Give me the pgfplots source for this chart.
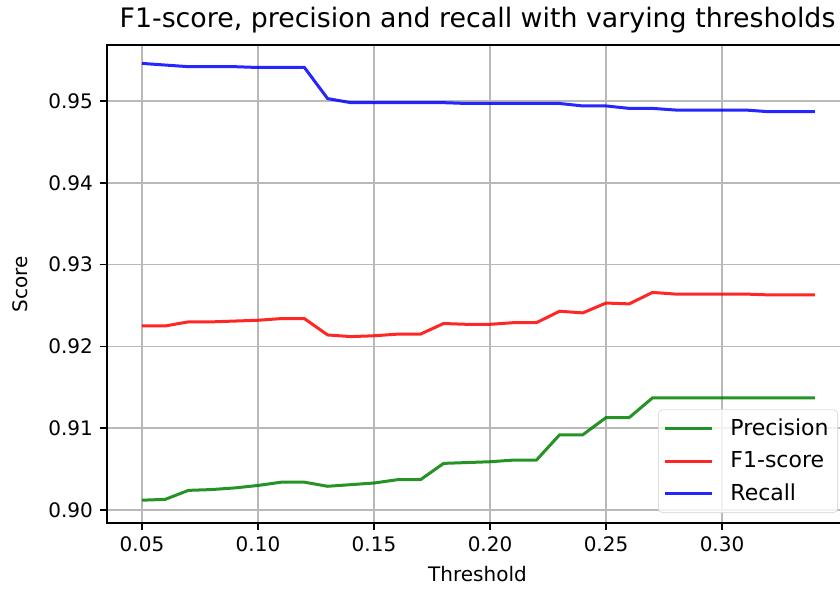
\documentclass[border=0pt]{standalone}
\usepackage{pgfplots}
\pgfplotsset{compat=1.18}
\usepackage{pgfplotstable}
\usepackage{fontspec}
\setmainfont{DejaVu Sans}
\pgfplotstableread{
t prec f1 rec
0.05 0.9012 0.9225 0.9546
0.06 0.9013 0.9225 0.9544
0.07 0.9024 0.9230 0.9542
0.08 0.9025 0.9230 0.9542
0.09 0.9027 0.9231 0.9542
0.10 0.9030 0.9232 0.9541
0.11 0.9034 0.9234 0.9541
0.12 0.9034 0.9234 0.9541
0.13 0.9029 0.9214 0.9503
0.14 0.9031 0.9212 0.9498
0.15 0.9033 0.9213 0.9498
0.16 0.9037 0.9215 0.9498
0.17 0.9037 0.9215 0.9498
0.18 0.9057 0.9228 0.9498
0.19 0.9058 0.9227 0.9497
0.20 0.9059 0.9227 0.9497
0.21 0.9061 0.9229 0.9497
0.22 0.9061 0.9229 0.9497
0.23 0.9092 0.9243 0.9497
0.24 0.9092 0.9241 0.9494
0.25 0.9113 0.9253 0.9494
0.26 0.9113 0.9252 0.9491
0.27 0.9137 0.9266 0.9491
0.28 0.9137 0.9264 0.9489
0.29 0.9137 0.9264 0.9489
0.30 0.9137 0.9264 0.9489
0.31 0.9137 0.9264 0.9489
0.32 0.9137 0.9263 0.9487
0.33 0.9137 0.9263 0.9487
0.34 0.9137 0.9263 0.9487
}\data
\definecolor{mplgreen}{rgb}{0,0.5,0}
\begin{document}
\begin{tikzpicture}
\begin{axis}[
  scale only axis, width=370.5pt, height=239pt,
  xmin=0.03491, xmax=0.3543, ymin=0.89841, ymax=0.95685,
  xtick={0.05,0.10,0.15,0.20,0.25,0.30},
  ytick={0.90,0.91,0.92,0.93,0.94,0.95},
  scaled ticks=false,
  xticklabel style={/pgf/number format/.cd, fixed, fixed zerofill, precision=2},
  yticklabel style={/pgf/number format/.cd, fixed, fixed zerofill, precision=2},
  /pgf/number format/assume math mode=true,
  grid=major, grid style={color=gray!55, line width=0.8pt},
  tick align=outside, major tick length=3.5pt,
  tick style={black, line width=0.8pt},
  xtick pos=bottom, ytick pos=left,
  axis line style={line width=0.8pt},
  font=\fontsize{10}{12}\selectfont,
  title style={font=\fontsize{13.4}{16}\selectfont, yshift=-3.5pt},
  title={F1-score, precision and recall with varying thresholds},
  xlabel={Threshold}, ylabel={Score},
  ylabel shift=3.5pt,
  legend cell align=left,
  legend style={at={(rel axis cs:1,0)}, anchor=south east, xshift=-5pt, yshift=5pt,
    draw=gray!25, rounded corners=2pt, fill=white, fill opacity=0.8, text opacity=1,
    font=\fontsize{11}{13}\selectfont, row sep=2.6pt, inner sep=2.5pt},
  legend image code/.code={\draw[#1, line width=1.5pt] (0pt,0pt) -- (23.5pt,0pt); \path (30pt,0pt);},
]
\addplot[mplgreen, line width=1.5pt, opacity=0.85] table[x=t, y=prec] {\data};
\addlegendentry{Precision}
\addplot[red, line width=1.5pt, opacity=0.85] table[x=t, y=f1] {\data};
\addlegendentry{F1-score}
\addplot[blue, line width=1.5pt, opacity=0.85] table[x=t, y=rec] {\data};
\addlegendentry{Recall}
\end{axis}
\pgfresetboundingbox
\path[use as bounding box] (-53.5pt,-34pt) rectangle (366.5pt,261.5pt);
\end{tikzpicture}
\end{document}
